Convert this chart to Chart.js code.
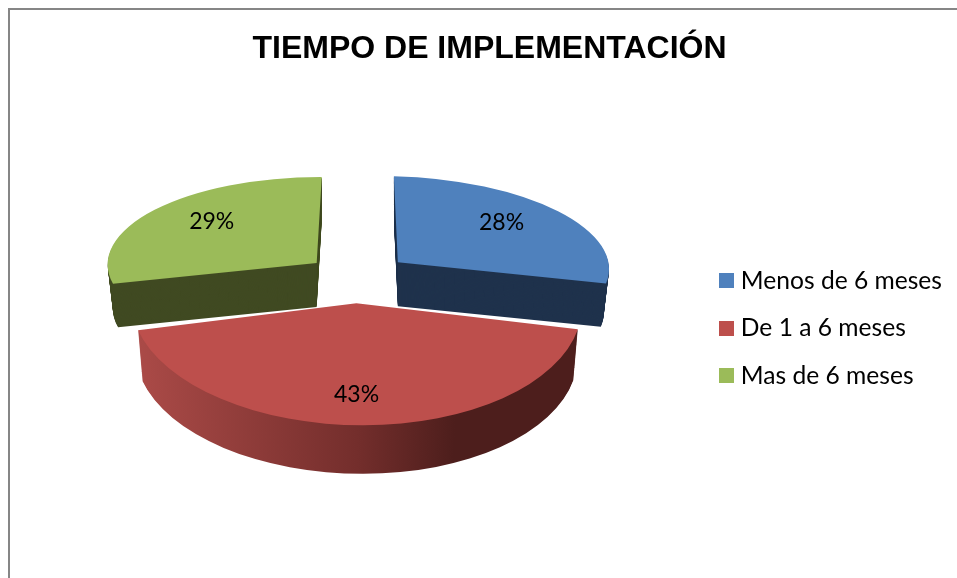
<!DOCTYPE html>
<html>
<head>
<meta charset="utf-8">
<title>Tiempo de implementación</title>
<script src="https://cdn.jsdelivr.net/npm/chart.js@4/dist/chart.umd.min.js"></script>
<style>
    html, body { margin: 0; padding: 0; background: #fff; overflow: hidden; }
    .frame { position: absolute; left: 8px; top: 8px; width: 949px; height: 570px; border-left: 2px solid #868686; border-top: 2px solid #868686; }
    canvas { position: absolute; left: 27px; top: 0; }
</style>
</head>
<body>
<div class="frame"></div>
<canvas id="chart" width="925" height="578"></canvas>
<script>
// Data
const categories = ['Menos de 6 meses', 'De 1 a 6 meses', 'Mas de 6 meses'];
const values = [28, 43, 29];
const title = 'TIEMPO DE IMPLEMENTACIÓN';

// Colours
const faceColors = ['#4F81BD', '#BD4F4C', '#9BBB59'];
const wallColors = ['#1F324C', null, '#404A22'];
const redWallStops = [[0, '#AC4B48'], [0.5, '#742E2C'], [0.72, '#4D1E1C'], [1, '#4D1E1C']];

// Fake 3D: each slice gets its own tilt [a, b, c, d], it is a perspective view in the original
const sliceTilt = [
    [0.96, 0.023, 0.018, 0.391],
    [1.025, 0.015, 0, 0.555],
    [0.95, 0.002, -0.023, 0.391]
];
const wallDepth = [44, 51, 44];
const wallShrink = [0.025, 0.02, 0.025];
const explodeSquash = 0.48;
const pieShift = { x: -9.5, y: -50 };
const sliceNudgeX = [3, 0, 3];
const labelRadius = [0.66, 0.73, 0.66];
const labelNudge = [[-2, -6], [-5, 2], [2, -6]];
const drawOrder = [0, 2, 1];
const labelFont = '23px Lato, Carlito, sans-serif';

// Small square for the legend, so the gap to the text can be narrower than the default
function legendSwatch(color) {
    const c = document.createElement('canvas');
    c.width = 15;
    c.height = 15;
    const g = c.getContext('2d');
    g.fillStyle = color;
    g.fillRect(0, 0, 15, 15);
    return c;
}

function sliceApex(arc, i) {
    const mid = (arc.startAngle + arc.endAngle) / 2;
    const d = arc.options.offset / 4;
    return {
        x: arc.x + pieShift.x + sliceNudgeX[i] + Math.cos(mid) * d,
        y: arc.y + pieShift.y + Math.sin(mid) * d * explodeSquash
    };
}

function drawSliceLayer(ctx, arc, i, fill, k) {
    const apex = sliceApex(arc, i);
    const t = sliceTilt[i];
    const s = 1 - (k / wallDepth[i]) * wallShrink[i];
    const layer = Object.create(arc);
    layer.options = Object.assign({}, arc.options, { offset: 0, borderWidth: 0, backgroundColor: fill });
    ctx.save();
    ctx.translate(apex.x, apex.y + k);
    ctx.transform(t[0] * s, t[1] * s, t[2] * s, t[3] * s, 0, 0);
    ctx.translate(-arc.x, -arc.y);
    layer.draw(ctx);
    ctx.restore();
}

const pie3d = {
    id: 'pie3d',
    beforeDatasetsDraw(chart) {
        const ctx = chart.ctx;
        const arcs = chart.getDatasetMeta(0).data;

        drawOrder.forEach(i => {
            const arc = arcs[i];
            let wall = wallColors[i];
            if (!wall) {
                wall = ctx.createLinearGradient(arc.x - arc.outerRadius, 0, arc.x + arc.outerRadius, 0);
                redWallStops.forEach(s => wall.addColorStop(s[0], s[1]));
            }
            for (let k = wallDepth[i]; k > 0; k--) {
                drawSliceLayer(ctx, arc, i, wall, k);
            }
            drawSliceLayer(ctx, arc, i, faceColors[i], 0);
        });

        // Percent labels
        ctx.save();
        ctx.font = labelFont;
        ctx.fillStyle = '#000';
        ctx.textAlign = 'center';
        ctx.textBaseline = 'middle';
        arcs.forEach((arc, i) => {
            const apex = sliceApex(arc, i);
            const mid = (arc.startAngle + arc.endAngle) / 2;
            const r = arc.outerRadius * labelRadius[i];
            const ux = Math.cos(mid) * r;
            const uy = Math.sin(mid) * r;
            const t = sliceTilt[i];
            ctx.fillText(values[i] + '%',
                apex.x + t[0] * ux + t[2] * uy + labelNudge[i][0],
                apex.y + t[1] * ux + t[3] * uy + labelNudge[i][1]);
        });
        ctx.restore();
        return false; // slices are already drawn
    }
};

new Chart(document.getElementById('chart'), {
    type: 'pie',
    data: {
        labels: categories,
        datasets: [{
            data: values,
            backgroundColor: faceColors,
            borderWidth: 0,
            offset: 208
        }]
    },
    options: {
        responsive: false,
        animation: false,
        radius: 220,
        plugins: {
            title: {
                display: true,
                text: title,
                color: '#000',
                font: { family: "'Liberation Sans', Arial, sans-serif", size: 32, weight: 'bold' },
                padding: { top: 30, bottom: 10 }
            },
            legend: {
                position: 'right',
                fullSize: false,
                labels: {
                    usePointStyle: true,
                    pointStyleWidth: 4,
                    boxHeight: 15,
                    padding: 23,
                    color: '#000',
                    font: { family: 'Lato, Carlito, sans-serif', size: 24.6 },
                    generateLabels(chart) {
                        return categories.map((c, i) => ({
                            text: c,
                            index: i,
                            lineWidth: 0,
                            pointStyle: legendSwatch(faceColors[i])
                        }));
                    }
                }
            },
            tooltip: { enabled: false }
        }
    },
    plugins: [pie3d]
});
</script>
</body>
</html>
